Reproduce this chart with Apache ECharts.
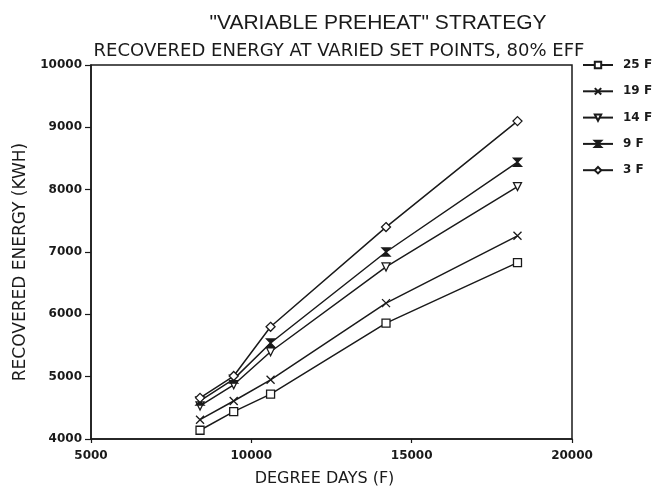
<!DOCTYPE html>
<html>
<head>
<meta charset="utf-8">
<script src="https://cdn.jsdelivr.net/npm/echarts@6/dist/echarts.min.js"></script>
<style>
  html, body { margin: 0; padding: 0; background: #fff; }
  #chart { width: 662px; height: 492px; }
</style>
</head>
<body>
<div id="chart"></div>
<script>
// Degree days (F) at which recovered energy was evaluated
const degreeDays = [8400, 9450, 10600, 14200, 18300];

// Recovered energy (KWH) for each set point
const setPointNames = ['25 F', '19 F', '14 F', '9 F', '3 F'];
const energy25 = [4140, 4440, 4720, 5860, 6830];
const energy19 = [4310, 4610, 4950, 6180, 7260];
const energy14 = [4530, 4870, 5400, 6760, 8050];
const energy9  = [4610, 4960, 5540, 7000, 8440];
const energy3  = [4660, 5010, 5800, 7400, 9100];

const xTicks = { min: 5000, max: 20000, step: 5000 };
const yTicks = { min: 4000, max: 10000, step: 1000 };

const FONT = '"Liberation Sans", Arial, sans-serif';
const WIDE = '"DejaVu Sans", sans-serif';
const INK = '#1a1a1a';

const symbols = [
  { symbol: 'rect', rotate: 0, fill: '#fff', size: 8 },
  { symbol: 'path://M0,0L10,10M10,0L0,10', rotate: 0, fill: '#fff', size: 8 },
  { symbol: 'triangle', rotate: 180, fill: '#fff', size: 8 },
  { symbol: 'path://M0,0L10,0L5,5L10,10L0,10L5,5Z', rotate: 0, fill: INK, size: 8 },
  { symbol: 'diamond', rotate: 0, fill: '#fff', size: 9 }
];

const seriesValues = [energy25, energy19, energy14, energy9, energy3];

const series = seriesValues.map((vals, i) => ({
  name: setPointNames[i],
  type: 'line',
  data: degreeDays.map((d, j) => [d, vals[j]]),
  symbol: symbols[i].symbol,
  symbolRotate: symbols[i].rotate,
  symbolSize: symbols[i].size,
  showAllSymbol: true,
  lineStyle: { color: INK, width: 1.5 },
  itemStyle: { color: symbols[i].fill, borderColor: INK, borderWidth: 1.3 },
  emphasis: { disabled: true },
  animation: false,
  z: 3
}));

const plain = v => String(v);

const chart = echarts.init(document.getElementById('chart'), null, { renderer: 'canvas' });

chart.setOption({
  backgroundColor: '#fff',
  animation: false,
  title: [
    {
      text: '"VARIABLE PREHEAT" STRATEGY',
      left: 373, top: 8, textAlign: 'center',
      textStyle: { fontFamily: FONT, fontSize: 21, fontWeight: 'normal', color: INK }
    },
    {
      text: 'RECOVERED ENERGY AT VARIED SET POINTS, 80% EFF',
      left: 334, top: 37, textAlign: 'center',
      textStyle: { fontFamily: WIDE, fontSize: 18, fontWeight: 'normal', color: INK }
    }
  ],
  legend: {
    orient: 'vertical',
    left: 582, top: 58,
    padding: 0,
    itemWidth: 30, itemHeight: 8,
    itemGap: 12.3,
    data: setPointNames,
    textStyle: { fontFamily: WIDE, fontSize: 12, fontWeight: 'bold', color: INK, lineHeight: 14, padding: [0, 0, 0, 5] },
    selectedMode: false
  },
  grid: {
    left: 91, right: 90, top: 65, bottom: 52,
    show: true, borderColor: INK, borderWidth: 1.5, backgroundColor: 'transparent'
  },
  xAxis: {
    type: 'value',
    min: xTicks.min, max: xTicks.max, interval: xTicks.step,
    name: 'DEGREE DAYS (F)', nameLocation: 'middle', nameGap: 32,
    nameTextStyle: { fontFamily: WIDE, fontSize: 16, color: INK, padding: [0, 14, 0, 0] },
    axisLine: { lineStyle: { color: INK, width: 1.5 } },
    axisTick: { show: true, length: 4, lineStyle: { color: INK, width: 1.2 } },
    axisLabel: { fontFamily: WIDE, fontSize: 12, fontWeight: 'bold', color: INK, margin: 11, formatter: plain },
    splitLine: { show: false }
  },
  yAxis: {
    type: 'value',
    min: yTicks.min, max: yTicks.max, interval: yTicks.step,
    name: 'RECOVERED ENERGY (KWH)', nameLocation: 'middle', nameGap: 53,
    nameTextStyle: { fontFamily: WIDE, fontSize: 17, color: INK, padding: [0, 20, 0, 0] },
    axisLine: { lineStyle: { color: INK, width: 1.5 } },
    axisTick: { show: true, length: 6, lineStyle: { color: INK, width: 1.2 } },
    axisLabel: { fontFamily: WIDE, fontSize: 12, fontWeight: 'bold', color: INK, margin: 9, formatter: plain },
    splitLine: { show: false }
  },
  series: series
});
</script>
</body>
</html>
